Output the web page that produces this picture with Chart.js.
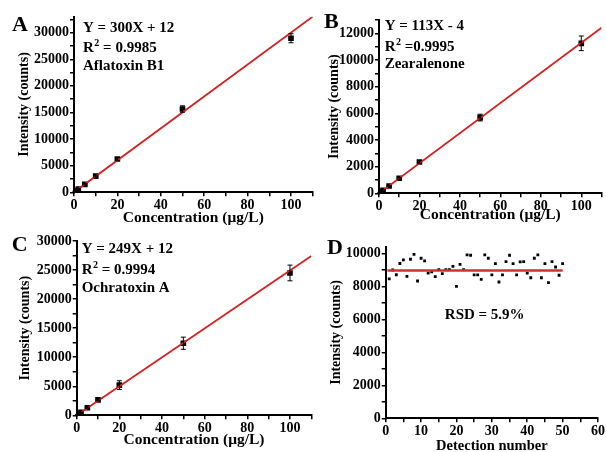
<!DOCTYPE html>
<html>
<head>
<meta charset="utf-8">
<script src="https://cdn.jsdelivr.net/npm/chart.js@4.4.0/dist/chart.umd.min.js"></script>
<style>
  html, body { margin: 0; padding: 0; background: #fff; }
  #wrap { position: relative; width: 606px; height: 452px; overflow: hidden; }
  .panel { position: absolute; }
</style>
</head>
<body>
<div id="wrap">
  <div class="panel" style="left:0;top:0;width:320px;height:226px"><canvas id="chartA"></canvas></div>
  <div class="panel" style="left:303px;top:0;width:303px;height:226px"><canvas id="chartB"></canvas></div>
  <div class="panel" style="left:0;top:226px;width:320px;height:226px"><canvas id="chartC"></canvas></div>
  <div class="panel" style="left:303px;top:226px;width:303px;height:226px"><canvas id="chartD"></canvas></div>
</div>
<script>
// concentrations used for the calibration curves (µg/L)
const conc = [0.5, 1, 2, 5, 10, 20, 50, 100];

const aflatoxinB1 = [160, 310, 600, 1500, 3050, 6250, 15650, 28950];
const aflatoxinB1Err = [40, 50, 70, 120, 180, 250, 600, 850];
const zearalenone = [60, 110, 220, 550, 1130, 2350, 5680, 11250];
const zearalenoneErr = [20, 20, 30, 40, 60, 90, 250, 550];
const ochratoxinA = [130, 260, 500, 1300, 2650, 5200, 12400, 24500];
const ochratoxinAErr = [30, 40, 60, 100, 150, 750, 1050, 1350];

// fitted lines (end points)
const fitX = [0, 110];
const fitA = [12, 33012];
const fitB = [-4, 12426];
const fitC = [12, 27402];

// repeatability test, panel D
const detectionNo = [1, 2, 3, 4, 5, 6, 7, 8, 9, 10, 11, 12, 13, 14, 15, 16, 17, 18, 19, 20,
  21, 22, 23, 24, 25, 26, 27, 28, 29, 30, 31, 32, 33, 34, 35, 36, 37, 38, 39, 40,
  41, 42, 43, 44, 45, 46, 47, 48, 49, 50];
const detectionIntensity = [8450, 8990, 8700, 9380, 9600, 8600, 9640, 9940, 8320, 9700,
  9540, 8800, 8870, 8590, 9010, 8770, 9010, 9010, 9210, 8000,
  9330, 9010, 9900, 9880, 8690, 8690, 8420, 9900, 9700, 8690,
  9370, 8260, 8690, 9500, 9880, 9370, 8690, 9480, 9500, 8800,
  8520, 9700, 9900, 8520, 9370, 8220, 9500, 9170, 8670, 9370];
const meanX = [0.5, 50];
const meanY = [8960, 8960];

// labelled ticks (minor ticks sit half way between them)
const concTicks = [0, 20, 40, 60, 80, 100];
const ticksA = [0, 5000, 10000, 15000, 20000, 25000, 30000];
const ticksB = [0, 2000, 4000, 6000, 8000, 10000, 12000];
const ticksC = [0, 5000, 10000, 15000, 20000, 25000, 30000];
const detTicks = [0, 10, 20, 30, 40, 50, 60];
const ticksD = [0, 2000, 4000, 6000, 8000, 10000];

const RED = '#d42222';
const FONT = '"Liberation Serif", "Times New Roman", serif';

function pts(xs, ys) {
  return xs.map(function (x, i) { return { x: x, y: ys[i] }; });
}

// error bars drawn through the chart scales
const errorBars = {
  id: 'errorBars',
  afterDatasetsDraw: function (chart) {
    const ctx = chart.ctx;
    const xs = chart.scales.x, ys = chart.scales.y;
    chart.data.datasets.forEach(function (ds) {
      if (!ds.errors) return;
      ctx.save();
      ctx.strokeStyle = '#000';
      ctx.lineWidth = 1;
      ds.data.forEach(function (p, i) {
        const e = ds.errors[i];
        const px = xs.getPixelForValue(p.x);
        const top = ys.getPixelForValue(p.y + e);
        const bot = ys.getPixelForValue(p.y - e);
        ctx.beginPath();
        ctx.moveTo(px, top); ctx.lineTo(px, bot);
        ctx.moveTo(px - 2.5, top); ctx.lineTo(px + 2.5, top);
        ctx.moveTo(px - 2.5, bot); ctx.lineTo(px + 2.5, bot);
        ctx.stroke();
      });
      ctx.restore();
    });
  }
};

// panel letters and equation text
function notesPlugin(letter, letterPos, lines) {
  return {
    id: 'notes',
    afterDraw: function (chart) {
      const ctx = chart.ctx;
      ctx.save();
      ctx.fillStyle = '#000';
      ctx.textBaseline = 'alphabetic';
      ctx.font = 'bold 22px ' + FONT;
      ctx.fillText(letter, letterPos[0], letterPos[1]);
      lines.forEach(function (l) {
        ctx.font = 'bold 15px ' + FONT;
        ctx.textAlign = l.align || 'left';
        if (l.sup) {
          let x = l.x;
          ctx.fillText('R', x, l.y);
          x += ctx.measureText('R').width;
          ctx.font = 'bold 10px ' + FONT;
          ctx.fillText('2', x + 0.5, l.y - 6);
          x += ctx.measureText('2').width + 0.5;
          ctx.font = 'bold 15px ' + FONT;
          ctx.fillText(l.text, x, l.y);
        } else {
          ctx.fillText(l.text, l.x, l.y);
        }
      });
      ctx.restore();
    }
  };
}

function axis(opts) {
  const labelled = opts.ticks;
  const half = (labelled[1] - labelled[0]) / 2;
  return {
    type: 'linear',
    min: opts.min,
    max: opts.max,
    border: { display: true, color: '#000', width: 2 },
    grid: { display: true, drawOnChartArea: false, drawTicks: true, tickLength: 4, color: '#000', lineWidth: 1.5 },
    ticks: {
      autoSkip: false,
      maxRotation: 0,
      padding: opts.tickPad,
      color: '#000',
      font: { family: FONT, size: 14, weight: 'bold' },
      callback: function (v) {
        return labelled.indexOf(v) >= 0 ? String(v) : '';
      }
    },
    afterBuildTicks: function (s) {
      const list = [];
      labelled.forEach(function (v) {
        if (v <= opts.max) list.push({ value: v });
        if (v + half <= opts.max) list.push({ value: v + half });
      });
      s.ticks = list;
    },
    title: {
      display: true,
      text: opts.title,
      color: '#000',
      font: { family: FONT, size: opts.titleSize || 14, weight: 'bold' },
      padding: opts.titlePad
    },
    afterFit: function (s) {
      if (opts.width) s.width = opts.width;
      if (opts.height) s.height = opts.height;
    }
  };
}

function makeCalibration(canvasId, values, errors, fitY, p) {
  const ctx = document.getElementById(canvasId).getContext('2d');
  return new Chart(ctx, {
    data: {
      datasets: [{
        type: 'line',
        data: pts(fitX, fitY),
        borderColor: RED,
        borderWidth: 1.8,
        pointRadius: 0,
        order: 0
      }, {
        type: 'scatter',
        data: pts(conc, values),
        errors: errors,
        backgroundColor: '#000',
        borderColor: '#000',
        pointStyle: 'rect',
        pointRadius: 4,
        borderWidth: 0,
        order: 1
      }]
    },
    options: {
      responsive: true,
      maintainAspectRatio: false,
      animation: false,
      layout: { padding: { top: p.padTop, right: p.padRight, left: 0, bottom: 0 } },
      plugins: { legend: { display: false }, tooltip: { enabled: false } },
      scales: {
        x: axis({ min: 0, max: 110, ticks: concTicks, title: 'Concentration (\u03bcg/L)', titleSize: 15.5,
          tickPad: 1, titlePad: { top: 0, bottom: p.xTitlePad }, height: p.xHeight }),
        y: axis({ min: 0, max: p.yMax, ticks: p.yTicks, title: 'Intensity (counts)',
          tickPad: 1, titlePad: { top: p.yTitlePad, bottom: 0 }, width: p.yWidth })
      }
    },
    plugins: [errorBars, p.notes]
  });
}

makeCalibration('chartA', aflatoxinB1, aflatoxinB1Err, fitA, {
  padTop: 16.7, padRight: 7.3, xHeight: 33.7, yWidth: 74, yMax: 33000, yTicks: ticksA,
  xTitlePad: -1.5, yTitlePad: 15.6,
  notes: notesPlugin('A', [12, 31], [
    { text: 'Y = 300X + 12', x: 83, y: 32 },
    { text: ' = 0.9985', x: 83, y: 52, sup: true },
    { text: 'Aflatoxin B1', x: 83, y: 70 }
  ])
});

makeCalibration('chartB', zearalenone, zearalenoneErr, fitB, {
  padTop: 20, padRight: 4.5, xHeight: 32.7, yWidth: 76, yMax: 13000, yTicks: ticksB,
  xTitlePad: 2, yTitlePad: 23.3,
  notes: notesPlugin('B', [21, 28], [
    { text: 'Y = 113X - 4', x: 81.7, y: 30 },
    { text: ' =0.9995', x: 81.7, y: 50.7, sup: true },
    { text: 'Zearalenone', x: 81.7, y: 68.3 }
  ])
});

makeCalibration('chartC', ochratoxinA, ochratoxinAErr, fitC, {
  padTop: 15, padRight: 8.7, xHeight: 36.7, yWidth: 76.7, yMax: 30000, yTicks: ticksC,
  xTitlePad: 3, yTitlePad: 16.6,
  notes: notesPlugin('C', [11.7, 25], [
    { text: 'Y = 249X + 12', x: 81.7, y: 27.3 },
    { text: ' = 0.9994', x: 81.7, y: 47.7, sup: true },
    { text: 'Ochratoxin A', x: 81.7, y: 66 }
  ])
});

// panel D: repeatability
new Chart(document.getElementById('chartD').getContext('2d'), {
  data: {
    datasets: [{
      type: 'line',
      data: pts(meanX, meanY),
      borderColor: '#d03030',
      borderWidth: 2.5,
      pointRadius: 0,
      order: 0
    }, {
      type: 'scatter',
      data: pts(detectionNo, detectionIntensity),
      backgroundColor: '#000',
      pointStyle: 'rect',
      pointRadius: 2,
      borderWidth: 0,
      order: 1
    }]
  },
  options: {
    responsive: true,
    maintainAspectRatio: false,
    animation: false,
    layout: { padding: { top: 20.7, right: 7, left: 0, bottom: 0 } },
    plugins: { legend: { display: false }, tooltip: { enabled: false } },
    scales: {
      x: axis({ min: 0, max: 60, ticks: detTicks, title: 'Detection number', titleSize: 14.5,
        tickPad: 1, titlePad: { top: 0, bottom: -2.5 }, height: 33.7 }),
      y: axis({ min: 0, max: 10400, ticks: ticksD, title: 'Intensity (counts)',
        tickPad: 1, titlePad: { top: 25, bottom: 0 }, width: 82.7 })
    }
  },
  plugins: [notesPlugin('D', [24, 28.3], [
    { text: 'RSD = 5.9%', x: 181.7, y: 92.7, align: 'center' }
  ])]
});
</script>
</body>
</html>
